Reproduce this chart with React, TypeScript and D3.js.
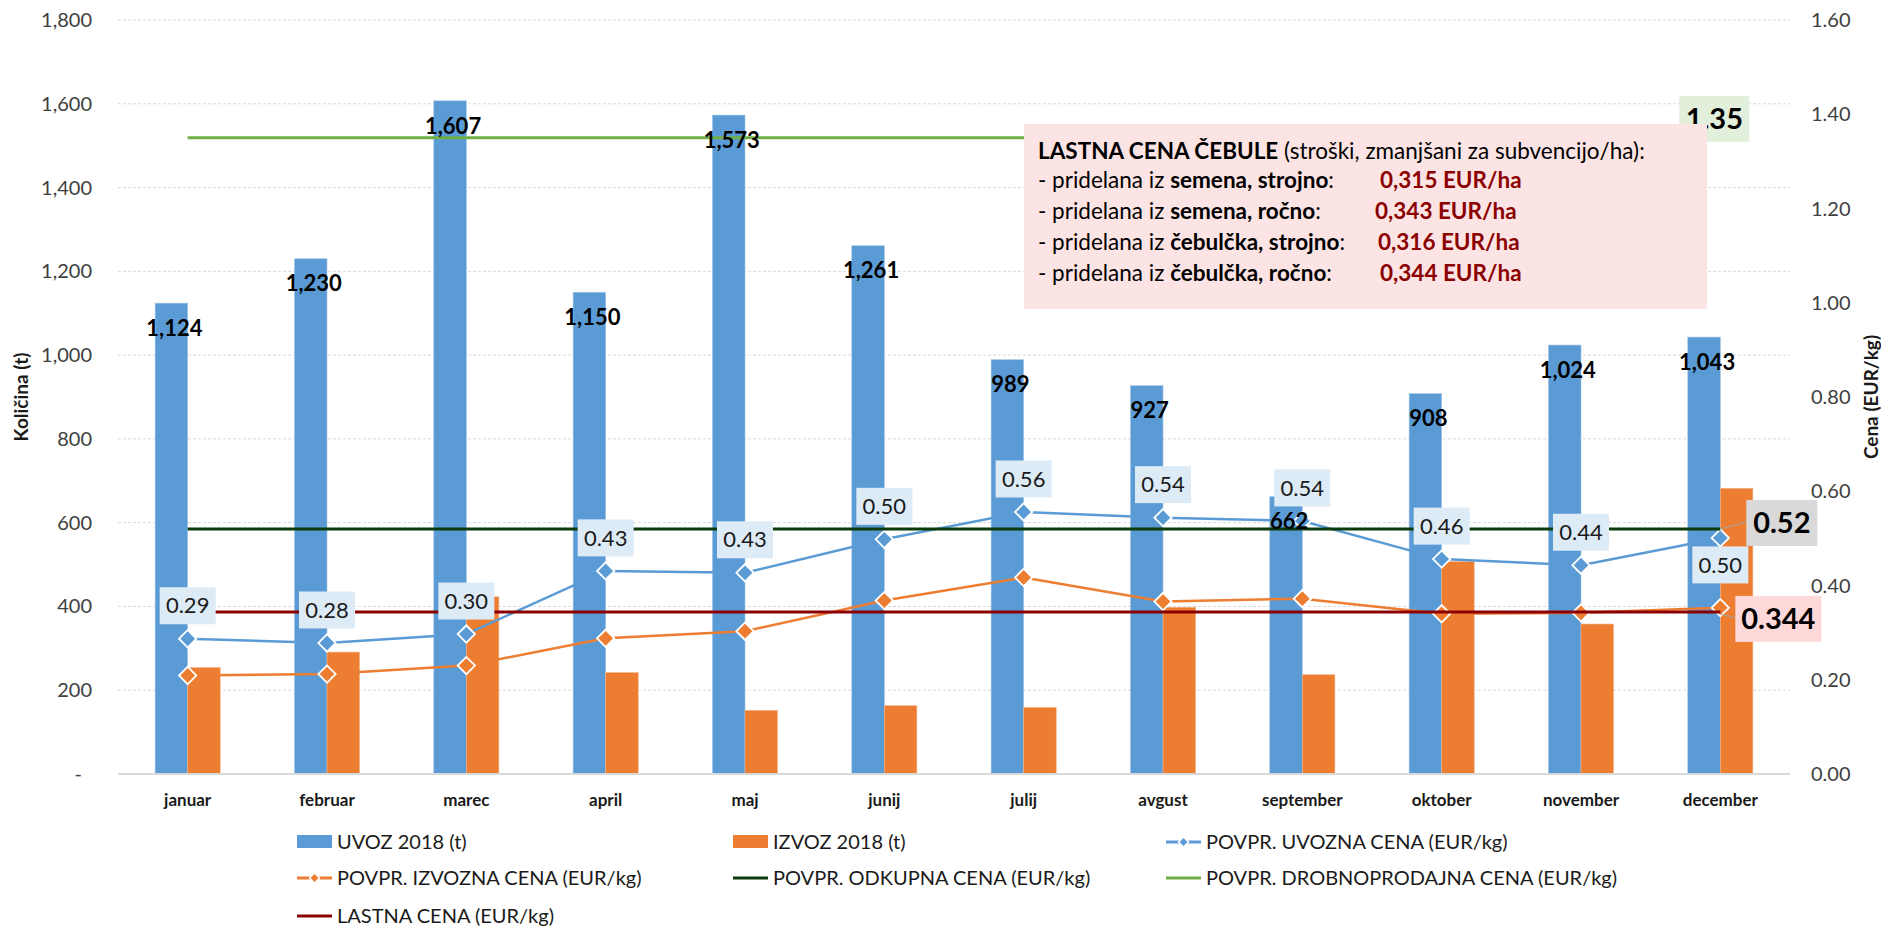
import * as d3 from "d3";
import React from "react";

// chart data
const months = [
  "januar", "februar", "marec", "april", "maj", "junij",
  "julij", "avgust", "september", "oktober", "november", "december",
];
const uvoz = [1124, 1230, 1607, 1150, 1573, 1261, 989, 927, 662, 908, 1024, 1043];
const izvoz = [254, 291, 423, 242, 152, 163, 159, 398, 237, 507, 358, 682];
const uvoznaCena = [0.287, 0.278, 0.297, 0.431, 0.427, 0.498, 0.556, 0.544, 0.537, 0.456, 0.443, 0.501];
const izvoznaCena = [0.209, 0.212, 0.23, 0.288, 0.303, 0.368, 0.417, 0.366, 0.372, 0.34, 0.342, 0.353];
const odkupnaCena = 0.52;
const drobnoprodajnaCena = 1.35;
const lastnaCena = 0.344;

const noteTitle = ["LASTNA CENA ČEBULE", " (stroški, zmanjšani za subvencijo/ha):"];
const notePre = ["- pridelana iz ", "- pridelana iz ", "- pridelana iz ", "- pridelana iz "];
const noteBold = ["semena, strojno", "semena, ročno", "čebulčka, strojno", "čebulčka, ročno"];
const noteValue = ["0,315 EUR/ha", "0,343 EUR/ha", "0,316 EUR/ha", "0,344 EUR/ha"];

const legendNames = [
  "UVOZ 2018 (t)", "IZVOZ 2018 (t)", "POVPR. UVOZNA CENA (EUR/kg)",
  "POVPR. IZVOZNA CENA (EUR/kg)", "POVPR. ODKUPNA CENA (EUR/kg)", "POVPR. DROBNOPRODAJNA CENA (EUR/kg)",
  "LASTNA CENA (EUR/kg)",
];

const BLUE = "#5B9BD5";
const ORANGE = "#ED7D31";
const DARKGREEN = "#0B3B0B";
const GREEN = "#70AD47";
const DARKRED = "#8B0000";
const FONT = "Lato, 'Open Sans', sans-serif";

export default function App() {
  const W = 1881;
  const H = 927;
  const plot = { left: 118, right: 1790, top: 20, bottom: 774 };

  const x = d3
    .scaleBand<string>()
    .domain(months)
    .range([plot.left, plot.right])
    .paddingInner(0.533)
    .paddingOuter(0.2665);
  const bw = x.bandwidth();
  const cx = (i: number) => (x(months[i]) as number) + bw / 2;

  const yL = d3.scaleLinear().domain([0, 1800]).range([plot.bottom, plot.top]);
  const yR = d3.scaleLinear().domain([0, 1.6]).range([plot.bottom, plot.top]);

  const line = d3
    .line<number>()
    .x((_, i) => cx(i))
    .y((d) => yR(d));

  const diamond = d3.symbol().type(d3.symbolSquare).size(150)() as string;
  const smallDiamond = d3.symbol().type(d3.symbolSquare).size(50)() as string;

  const fmtL = (v: number) => (v === 0 ? "-" : d3.format(",")(v));
  const fmtR = d3.format(".2f");

  const x0 = cx(0);
  const x11 = cx(11);

  // legend layout
  const legCols = [297, 733, 1166];
  const legRows = [842, 878, 916];
  const legendKinds = ["bar", "bar", "marker", "marker", "line", "line", "line"];
  const legendColors = [BLUE, ORANGE, BLUE, ORANGE, DARKGREEN, GREEN, DARKRED];

  const noteX = 1024;
  const noteY = 124;
  const noteValueX = [1380, 1375, 1378, 1380];

  return (
    <svg width={W} height={H} style={{ display: "block", fontFamily: FONT }}>
      <style>{"body{margin:0}"}</style>
      <rect width={W} height={H} fill="#fff" />

      {/* gridlines */}
      {yL.ticks(9).map((t) =>
        t === 0 ? null : (
          <line
            key={"g" + t}
            x1={plot.left}
            x2={plot.right}
            y1={yL(t)}
            y2={yL(t)}
            stroke="#D9D9D9"
            strokeDasharray="3,2"
          />
        )
      )}

      {/* left axis */}
      {yL.ticks(9).map((t) => (
        <text
          key={"l" + t}
          x={t === 0 ? 82 : 92}
          y={yL(t)}
          dy="0.35em"
          textAnchor="end"
          fontSize={20}
          fill="#404040"
        >
          {fmtL(t)}
        </text>
      ))}
      <text
        transform={`translate(21,397) rotate(-90)`}
        textAnchor="middle"
        dy="0.35em"
        fontSize={19}
        fontWeight="bold"
        fill="#1a1a1a"
      >
        Količina (t)
      </text>

      {/* right axis */}
      {yR.ticks(8).map((t) => (
        <text key={"r" + t} x={1811} y={yR(t)} dy="0.35em" fontSize={20} fill="#404040">
          {fmtR(t)}
        </text>
      ))}
      <text
        transform={`translate(1871,397) rotate(-90)`}
        textAnchor="middle"
        dy="0.35em"
        fontSize={19}
        fontWeight="bold"
        fill="#1a1a1a"
      >
        Cena (EUR/kg)
      </text>

      {/* bars */}
      {months.map((m, i) => (
        <g key={"b" + m}>
          <rect
            x={x(m)}
            y={yL(uvoz[i])}
            width={bw / 2}
            height={yL(0) - yL(uvoz[i])}
            fill={BLUE}
            stroke="#9DC3E6"
            strokeWidth={0.6}
          />
          <rect
            x={(x(m) as number) + bw / 2}
            y={yL(izvoz[i])}
            width={bw / 2}
            height={yL(0) - yL(izvoz[i])}
            fill={ORANGE}
            stroke="#F4B183"
            strokeWidth={0.6}
          />
        </g>
      ))}

      {/* baseline */}
      <line x1={plot.left} x2={plot.right} y1={plot.bottom} y2={plot.bottom} stroke="#D9D9D9" strokeWidth={2} />

      {/* x labels */}
      {months.map((m, i) => (
        <text key={"x" + m} x={cx(i)} y={800} dy="0.35em" textAnchor="middle" fontSize={17} fontWeight="bold" fill="#1a1a1a">
          {m}
        </text>
      ))}

      {/* price lines */}
      <path d={line(uvoznaCena) as string} fill="none" stroke={BLUE} strokeWidth={2.5} />
      <path d={line(izvoznaCena) as string} fill="none" stroke={ORANGE} strokeWidth={2.5} />
      {uvoznaCena.map((v, i) => (
        <path key={"mu" + i} d={diamond} transform={`translate(${cx(i)},${yR(v)}) rotate(45)`} fill={BLUE} stroke="#fff" strokeWidth={1.8} />
      ))}
      {izvoznaCena.map((v, i) => (
        <path key={"mi" + i} d={diamond} transform={`translate(${cx(i)},${yR(v)}) rotate(45)`} fill={ORANGE} stroke="#fff" strokeWidth={1.8} />
      ))}

      <line x1={x0} x2={x11} y1={yR(odkupnaCena)} y2={yR(odkupnaCena)} stroke={DARKGREEN} strokeWidth={3} />
      <line x1={x0} x2={x11} y1={yR(drobnoprodajnaCena)} y2={yR(drobnoprodajnaCena)} stroke={GREEN} strokeWidth={3} />
      <line x1={x0} x2={x11} y1={yR(lastnaCena)} y2={yR(lastnaCena)} stroke={DARKRED} strokeWidth={3} />

      {/* bar value labels */}
      {months.map((m, i) => (
        <text
          key={"v" + m}
          x={(x(m) as number) + bw / 4 + 3}
          y={yL(uvoz[i]) + 25}
          dy="0.35em"
          textAnchor="middle"
          fontSize={22}
          fontWeight="bold"
          fill="#000"
        >
          {d3.format(",")(uvoz[i])}
        </text>
      ))}

      {/* uvozna cena labels */}
      {uvoznaCena.map((v, i) => {
        const ly = i === 11 ? yR(v) + 27 : yR(v) - 33;
        return (
          <g key={"lu" + i}>
            <rect x={cx(i) - 28} y={ly - 18.5} width={56} height={37} fill="#DDEBF7" />
            <text x={cx(i)} y={ly} dy="0.35em" textAnchor="middle" fontSize={22} fill="#1a1a1a">
              {fmtR(v)}
            </text>
          </g>
        );
      })}

      {/* end labels of the flat price lines */}
      <line x1={x11} y1={yR(odkupnaCena)} x2={x11 + 26} y2={yR(odkupnaCena) - 7} stroke="#A6A6A6" strokeWidth={1} />
      <rect x={x11 + 26} y={yR(odkupnaCena) - 29} width={71} height={46} fill="#D9D9D9" />
      <text x={x11 + 61.5} y={yR(odkupnaCena) - 6} dy="0.35em" textAnchor="middle" fontSize={29} fontWeight="bold" fill="#000">
        {fmtR(odkupnaCena)}
      </text>

      <line x1={x11} y1={yR(lastnaCena) + 2} x2={x11 + 15} y2={yR(lastnaCena) + 6} stroke="#A6A6A6" strokeWidth={1} />
      <rect x={x11 + 15} y={yR(lastnaCena) - 16} width={86} height={46} fill="#FFD9D9" />
      <text x={x11 + 58} y={yR(lastnaCena) + 7} dy="0.35em" textAnchor="middle" fontSize={29} fontWeight="bold" fill="#000">
        {d3.format(".3f")(lastnaCena)}
      </text>

      <rect x={x11 - 41} y={yR(drobnoprodajnaCena) - 42} width={70} height={46} fill="#E2EFDA" />
      <text x={x11 - 6} y={yR(drobnoprodajnaCena) - 19} dy="0.35em" textAnchor="middle" fontSize={29} fontWeight="bold" fill="#000">
        {fmtR(drobnoprodajnaCena)}
      </text>

      {/* note box */}
      <rect x={noteX} y={noteY} width={683} height={185} fill="#FDE4E4" />
      <text x={noteX + 14} y={noteY + 27} dy="0.35em" fontSize={22.5} fill="#000">
        <tspan fontWeight="bold">{noteTitle[0]}</tspan>
        <tspan>{noteTitle[1]}</tspan>
      </text>
      {notePre.map((p, i) => (
        <g key={"n" + i}>
          <text x={noteX + 14} y={noteY + 56 + i * 31} dy="0.35em" fontSize={22.5} fill="#000">
            <tspan>{p}</tspan>
            <tspan fontWeight="bold">{noteBold[i]}</tspan>
            <tspan>:</tspan>
          </text>
          <text x={noteValueX[i]} y={noteY + 56 + i * 31} dy="0.35em" fontSize={22.5} fontWeight="bold" fill={DARKRED}>
            {noteValue[i]}
          </text>
        </g>
      ))}

      {/* legend */}
      {legendNames.map((name, i) => {
        const lx = legCols[i % 3];
        const ly = legRows[Math.floor(i / 3)];
        const kind = legendKinds[i];
        return (
          <g key={"leg" + i}>
            {kind === "bar" ? (
              <rect x={lx} y={ly - 7} width={35} height={13} fill={legendColors[i]} />
            ) : (
              <line x1={lx} x2={lx + 35} y1={ly} y2={ly} stroke={legendColors[i]} strokeWidth={3} />
            )}
            {kind === "marker" && (
              <path d={smallDiamond} transform={`translate(${lx + 17.5},${ly}) rotate(45)`} fill={legendColors[i]} stroke="#fff" strokeWidth={1.5} />
            )}
            <text x={lx + 40} y={ly} dy="0.35em" fontSize={20} fill="#1a1a1a">
              {name}
            </text>
          </g>
        );
      })}
    </svg>
  );
}
